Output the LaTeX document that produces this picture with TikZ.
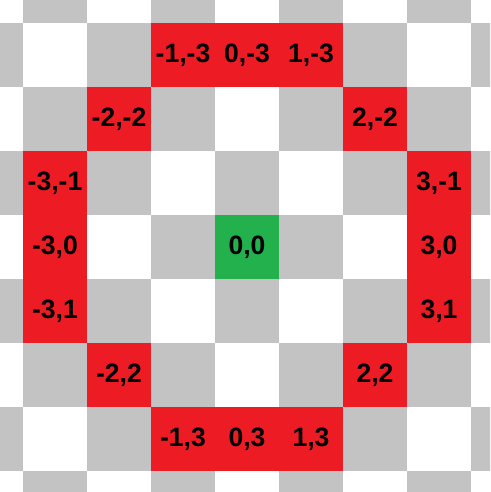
\documentclass[tikz,border=0pt]{standalone}
\usepackage{fontspec}
\setmainfont{Liberation Sans}
\usepackage{xcolor}
\definecolor{boardgray}{RGB}{195,195,195}
\definecolor{ringred}{RGB}{237,28,36}
\definecolor{origingreen}{RGB}{34,177,76}
\tikzset{
  darkcell/.style={fill=boardgray},
  ringcell/.style={fill=ringred, minimum size=1.01cm, inner sep=0pt, font=\fontsize{11.8}{14}\selectfont\bfseries},
  origincell/.style={ringcell, fill=origingreen},
}

\begin{document}
\begin{tikzpicture}[x=1cm,y=-1cm]
\useasboundingbox (-3.859,-3.859) rectangle (3.797,3.828);
\clip (-3.859,-3.859) rectangle (3.797,3.828);
\fill[white] (-3.859,-3.859) rectangle (3.797,3.828);
% checkerboard
\foreach \i in {-4,...,4}{
  \foreach \j in {-4,...,4}{
    \pgfmathtruncatemacro\cellsum{\i+\j}
    \ifodd\cellsum
      \fill[darkcell] (\i-0.5,\j-0.5) rectangle (\i+0.5,\j+0.5);
    \fi
  }
}
% ring of distance 3
\node[ringcell] (top1) at (-1,-3) {-1,-3};
\node[ringcell] (top2) at (0,-3) {0,-3};
\node[ringcell] (top3) at (1,-3) {1,-3};
\node[ringcell] (upleft) at (-2,-2) {-2,-2};
\node[ringcell] (upright) at (2,-2) {2,-2};
\node[ringcell] (left1) at (-3,-1) {-3,-1};
\node[ringcell] (left2) at (-3,0) {-3,0};
\node[ringcell] (left3) at (-3,1) {-3,1};
\node[ringcell] (right1) at (3,-1) {3,-1};
\node[ringcell] (right2) at (3,0) {3,0};
\node[ringcell] (right3) at (3,1) {3,1};
\node[ringcell] (lowleft) at (-2,2) {-2,2};
\node[ringcell] (lowright) at (2,2) {2,2};
\node[ringcell] (bot1) at (-1,3) {-1,3};
\node[ringcell] (bot2) at (0,3) {0,3};
\node[ringcell] (bot3) at (1,3) {1,3};
% centre
\node[origincell] (origin) at (0,0) {0,0};
\end{tikzpicture}
\end{document}
